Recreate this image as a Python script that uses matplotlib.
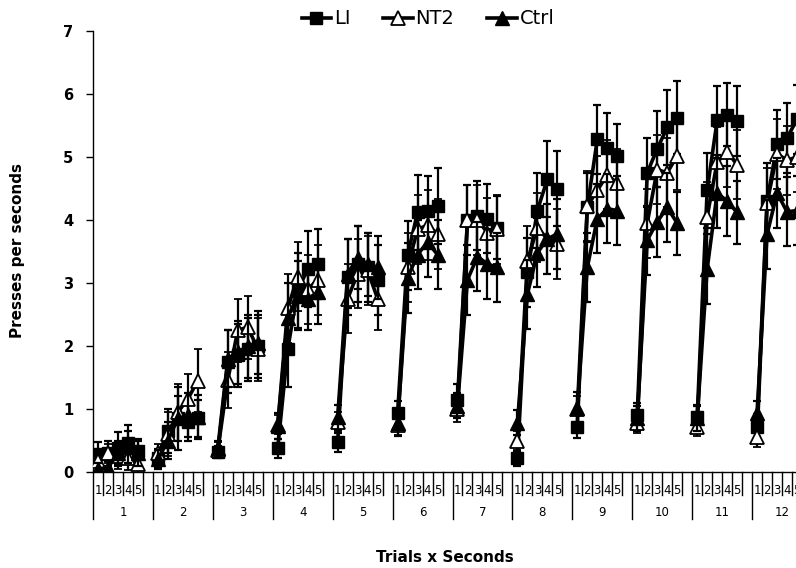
import numpy as np
import matplotlib
matplotlib.use("Agg")
import matplotlib.pyplot as plt
from matplotlib.lines import Line2D
from matplotlib.transforms import blended_transform_factory

trials = [str(i) for i in range(1, 13)]
seconds = ["1", "2", "3", "4", "5"]

LI = [0.28, 0.30, 0.38, 0.46, 0.33,
      0.22, 0.65, 0.85, 0.80, 0.85,
      0.32, 1.75, 1.85, 1.95, 2.00,
      0.38, 1.95, 2.88, 3.22, 3.30,
      0.47, 3.10, 3.30, 3.25, 3.05,
      0.93, 3.44, 4.12, 4.15, 4.22,
      1.15, 4.00, 4.07, 4.02, 3.88,
      0.22, 3.17, 4.15, 4.65, 4.50,
      0.72, 4.20, 5.28, 5.15, 5.02,
      0.90, 4.75, 5.13, 5.47, 5.62,
      0.87, 4.47, 5.58, 5.67, 5.57,
      0.72, 4.30, 5.20, 5.30, 5.60]
NT2 = [0.17, 0.30, 0.25, 0.23, 0.13,
       0.30, 0.60, 0.95, 1.16, 1.45,
       0.35, 1.46, 2.25, 2.30, 1.95,
       0.75, 2.60, 3.10, 2.90, 3.05,
       0.80, 2.75, 3.15, 3.20, 2.75,
       0.74, 3.25, 3.85, 3.92, 3.78,
       1.00, 4.00, 4.00, 3.80, 3.85,
       0.50, 3.35, 3.88, 3.70, 3.62,
       1.00, 4.22, 4.47, 4.72, 4.58,
       0.77, 3.95, 4.80, 4.75, 5.02,
       0.72, 4.05, 4.92, 5.08, 4.88,
       0.55, 4.27, 5.05, 4.95, 5.00]
Ctrl = [0.05, 0.07, 0.30, 0.40, 0.30,
        0.20, 0.50, 0.85, 0.90, 0.88,
        0.38, 1.80, 1.90, 2.00, 2.05,
        0.73, 2.45, 2.80, 2.75, 2.85,
        0.87, 3.15, 3.40, 3.30, 3.25,
        0.77, 3.08, 3.45, 3.65, 3.45,
        1.05, 3.05, 3.42, 3.30, 3.25,
        0.78, 2.82, 3.48, 3.70, 3.78,
        1.02, 3.25, 4.02, 4.18, 4.15,
        0.85, 3.68, 3.97, 4.20, 3.95,
        0.85, 3.22, 4.43, 4.30, 4.12,
        0.93, 3.77, 4.43, 4.13, 4.15]

LI_err = [0.20, 0.20, 0.25, 0.28, 0.20,
          0.15, 0.35, 0.50, 0.30, 0.30,
          0.10, 0.50, 0.50, 0.50, 0.50,
          0.15, 0.60, 0.60, 0.60, 0.55,
          0.15, 0.60, 0.60, 0.55, 0.55,
          0.20, 0.55, 0.60, 0.55, 0.60,
          0.25, 0.55, 0.55, 0.55, 0.50,
          0.12, 0.55, 0.60, 0.60, 0.60,
          0.18, 0.55, 0.55, 0.55, 0.50,
          0.20, 0.55, 0.60, 0.60, 0.58,
          0.20, 0.60, 0.55, 0.50, 0.55,
          0.20, 0.60, 0.55, 0.55, 0.55]
NT2_err = [0.15, 0.15, 0.20, 0.20, 0.15,
           0.15, 0.35, 0.45, 0.40, 0.50,
           0.12, 0.45, 0.50, 0.50, 0.50,
           0.15, 0.55, 0.55, 0.55, 0.55,
           0.15, 0.55, 0.55, 0.55, 0.50,
           0.15, 0.55, 0.55, 0.55, 0.55,
           0.20, 0.55, 0.55, 0.55, 0.55,
           0.15, 0.55, 0.55, 0.55, 0.55,
           0.20, 0.55, 0.55, 0.55, 0.55,
           0.15, 0.55, 0.55, 0.55, 0.55,
           0.15, 0.55, 0.55, 0.55, 0.55,
           0.15, 0.55, 0.55, 0.55, 0.55]
Ctrl_err = [0.10, 0.10, 0.20, 0.25, 0.20,
            0.15, 0.30, 0.35, 0.35, 0.35,
            0.12, 0.45, 0.50, 0.50, 0.50,
            0.20, 0.55, 0.55, 0.50, 0.50,
            0.20, 0.55, 0.50, 0.50, 0.50,
            0.20, 0.55, 0.55, 0.55, 0.55,
            0.20, 0.55, 0.55, 0.55, 0.55,
            0.20, 0.55, 0.55, 0.55, 0.55,
            0.25, 0.55, 0.55, 0.55, 0.55,
            0.20, 0.55, 0.55, 0.55, 0.50,
            0.20, 0.55, 0.55, 0.55, 0.50,
            0.20, 0.55, 0.55, 0.55, 0.55]

ncat = 6  # 5 seconds + one blank slot per trial

def expand(vals):
    out = []
    for t in range(len(trials)):
        out.extend(vals[t * 5:(t + 1) * 5])
        out.append(np.nan)
    return np.array(out, dtype=float)

x = np.arange(len(trials) * ncat)

fig = plt.figure(figsize=(7.96, 5.68), dpi=100)
W, H = 796, 568
left_px, right_px, bot_px, top_px = 93, 93 + 719, 472, 31
ax = fig.add_axes([left_px / W, 1 - bot_px / H, (right_px - left_px) / W, (bot_px - top_px) / H])

series = [
    ("LI", LI, LI_err, dict(marker="s", markersize=8, markerfacecolor="black", markeredgecolor="black")),
    ("NT2", NT2, NT2_err, dict(marker="^", markersize=9.5, markerfacecolor="white", markeredgecolor="black", markeredgewidth=1.3)),
    ("Ctrl", Ctrl, Ctrl_err, dict(marker="^", markersize=9.5, markerfacecolor="black", markeredgecolor="black")),
]
for i, (name, vals, errs, mk) in enumerate(series):
    ax.errorbar(x, expand(vals), yerr=expand(errs), color="black", linewidth=2.6,
                elinewidth=1.6, capsize=3, capthick=1.6, zorder=2 + i, **mk)

ax.set_xlim(-0.5, len(x) - 0.5)
ax.set_ylim(0, 7)
ax.set_yticks(range(0, 8))
ax.tick_params(axis="y", direction="out", length=5, width=1, labelsize=10.5, pad=9)
for lab in ax.get_yticklabels():
    lab.set_fontweight("bold")
ax.set_xticks([])
for s in ["top", "right"]:
    ax.spines[s].set_visible(False)
ax.spines["left"].set_linewidth(1)
ax.spines["bottom"].set_linewidth(1)

ax_h = bot_px - top_px
tr = blended_transform_factory(ax.transData, ax.transAxes)
for t, tl in enumerate(trials):
    g0 = t * ncat - 0.5
    ax.plot([g0, g0], [0, -47 / ax_h], transform=tr, color="black", lw=1, clip_on=False)
    for s, sl in enumerate(seconds):
        xc = t * ncat + s
        ax.text(xc, -18 / ax_h, sl, transform=tr, ha="center", va="center", fontsize=8.5, clip_on=False)
        ax.plot([xc + 0.5, xc + 0.5], [0, -23 / ax_h], transform=tr, color="black", lw=1, clip_on=False)
    ax.text(t * ncat + 2.5, -40 / ax_h, tl, transform=tr, ha="center", va="center", fontsize=8.5, clip_on=False)

fig.text(18 / W, 1 - 250 / H, "Presses per seconds", rotation=90, ha="center", va="center",
         fontsize=11, fontweight="bold")
fig.text(445 / W, 1 - 557 / H, "Trials x Seconds", ha="center", va="center",
         fontsize=11, fontweight="bold")

handles = [Line2D([0], [0], color="black", lw=2.6, **s[3]) for s in series]
fig.legend(handles, [s[0] for s in series], loc="center", bbox_to_anchor=(428 / W, 1 - 19 / H),
           ncol=3, frameon=False, fontsize=14, handlelength=1.5, handletextpad=0.15,
           columnspacing=1.7)

fig.savefig("out.png", dpi=100)
